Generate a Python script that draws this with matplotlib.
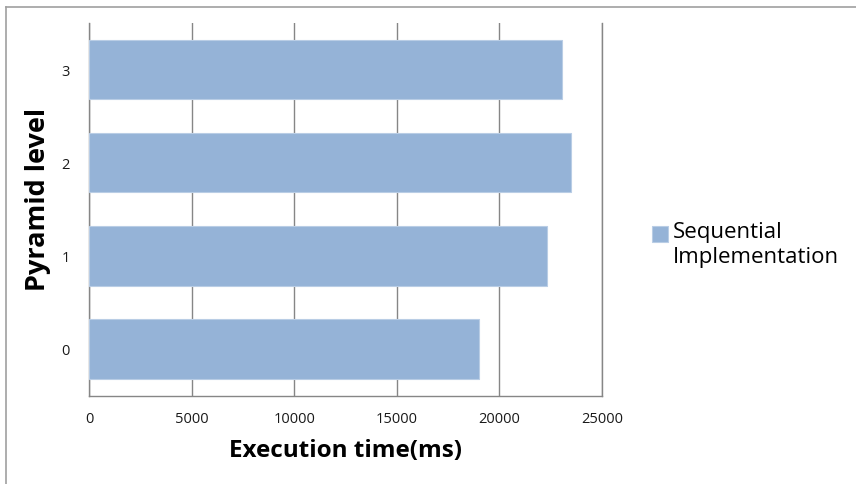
import matplotlib
matplotlib.use("Agg")
import matplotlib.pyplot as plt
from matplotlib.lines import Line2D

levels = ["0", "1", "2", "3"]
times = [19020, 22330, 23500, 23030]
series_name = "Sequential\nImplementation"
xticks = [0, 5000, 10000, 15000, 20000, 25000]

plt.rcParams['font.family'] = ['Open Sans', 'DejaVu Sans']

W, H = 856, 485
fig = plt.figure(figsize=(W / 100, H / 100), dpi=100)
ax = fig.add_axes([89 / W, 1 - 396.5 / H, (602 - 89) / W, (396.5 - 24) / H])

bar_color = "#95B3D7"
grid_color = "#868686"
ypos = list(range(len(levels)))
ax.barh(ypos, times, height=0.64, color=bar_color, edgecolor="#B9CDE5",
        linewidth=0.8, label=series_name, zorder=3)

ax.set_xlim(0, 25000)
ax.set_ylim(-0.5, len(levels) - 0.5)
ax.set_xticks(xticks)
ax.set_xticklabels([str(v) for v in xticks], fontsize=10.5, color="#1a1a1a")
ax.set_yticks(ypos)
ax.set_yticklabels(levels, fontsize=10.5, color="#1a1a1a")
ax.tick_params(axis='x', length=0, pad=11)
ax.tick_params(axis='y', length=0, pad=14)
ax.xaxis.grid(True, color=grid_color, linewidth=1.0, zorder=0)
ax.set_axisbelow(True)

ax.spines['top'].set_visible(False)
for s in ['left', 'bottom', 'right']:
    ax.spines[s].set_color(grid_color)
    ax.spines[s].set_linewidth(1.0)

ax.set_xlabel("Execution time(ms)", fontsize=17.5, fontweight='bold', labelpad=8.5)
ax.set_ylabel("Pyramid level", fontsize=19.5, fontweight='bold')
ax.yaxis.set_label_coords(-38 / 513, (396.5 - 199) / 372.5)

fs = 16
leg = ax.legend(loc='upper left', bbox_to_anchor=(652 / W, 1 - 222.5 / H),
                bbox_transform=fig.transFigure, frameon=False, fontsize=fs,
                handlelength=0.7, handleheight=0.7, handletextpad=0.25,
                borderpad=0, borderaxespad=0, labelspacing=0)
for h in leg.legend_handles:
    h.set_y(h.get_y() + 0.58 * fs - 1.8)

# outer border (top and left visible)
fig.add_artist(Line2D([5.5 / W, 1.0], [1 - 7.5 / H, 1 - 7.5 / H],
                      transform=fig.transFigure, color="#A0A0A0", linewidth=1.2))
fig.add_artist(Line2D([5.5 / W, 5.5 / W], [0, 1 - 7.5 / H],
                      transform=fig.transFigure, color="#A0A0A0", linewidth=1.2))

fig.savefig("out.png", dpi=100)
